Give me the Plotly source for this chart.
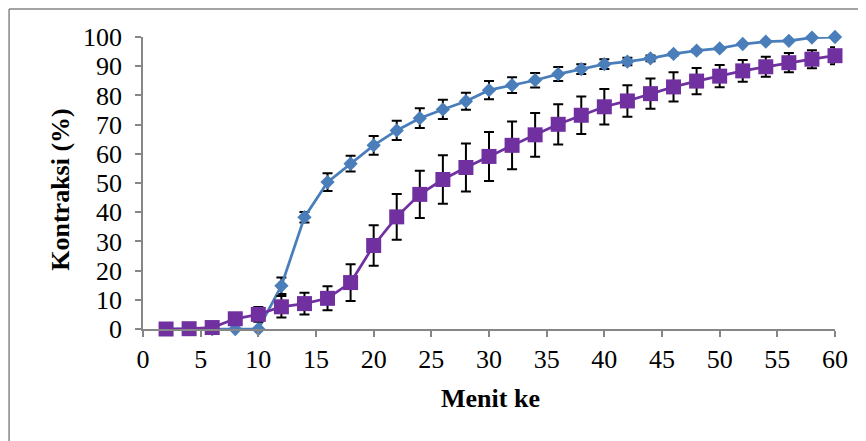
import plotly.graph_objects as go

menit = [2, 4, 6, 8, 10, 12, 14, 16, 18, 20, 22, 24, 26, 28, 30,
         32, 34, 36, 38, 40, 42, 44, 46, 48, 50, 52, 54, 56, 58, 60]

seri_a = [0, 0, 0, 0, 0, 14.8, 38.3, 50.3, 56.6, 62.9, 68.0, 72.2, 75.2, 78.0, 81.8,
          83.5, 85.2, 87.3, 89.0, 90.7, 91.6, 92.7, 94.2, 95.3, 96.1, 97.6, 98.4, 98.7, 99.8, 100.0]
err_a = [0, 0, 0, 0, 0, 2.8, 1.8, 3.0, 2.7, 3.2, 3.3, 3.4, 3.3, 2.9, 3.1,
         2.7, 2.5, 2.4, 1.7, 1.7, 1.3, 1.0, 0.5, 0.5, 0.4, 0.3, 0.3, 0.3, 0.2, 0.2]

seri_b = [0, 0.1, 0.5, 3.5, 5.0, 7.6, 8.7, 10.5, 15.9, 28.6, 38.4, 46.1, 51.2, 55.3, 59.1,
          62.9, 66.5, 70.1, 73.2, 76.1, 78.1, 80.6, 82.9, 84.9, 86.6, 88.4, 89.8, 91.2, 92.4, 93.6]
err_b = [0, 0, 0, 0.5, 2.5, 3.7, 3.7, 4.1, 6.3, 6.9, 7.8, 8.1, 8.3, 8.2, 8.4,
         8.2, 7.5, 6.9, 6.4, 6.1, 5.4, 5.2, 5.0, 4.5, 3.8, 3.7, 3.4, 3.3, 3.1, 2.9]

x_ticks = list(range(0, 61, 5))
y_ticks = list(range(0, 101, 10))

BLUE = "#4a7ebb"
PURPLE = "#7030a0"
GRAY = "#868686"
FONT = "Liberation Serif, Times New Roman, serif"
FS = 26

fig = go.Figure()
fig.add_trace(go.Scatter(
    x=menit, y=seri_a, mode="lines+markers",
    line=dict(color=BLUE, width=2.75),
    marker=dict(symbol="diamond", size=11, color=BLUE),
    error_y=dict(type="data", array=err_a, visible=True, color="black", thickness=2, width=5),
    cliponaxis=False, showlegend=False,
))
fig.add_trace(go.Scatter(
    x=menit, y=seri_b, mode="lines+markers",
    line=dict(color=PURPLE, width=2.75),
    marker=dict(symbol="square", size=15, color=PURPLE),
    error_y=dict(type="data", array=err_b, visible=True, color="black", thickness=2, width=5),
    cliponaxis=False, showlegend=False,
))

# page has an 8px body margin; figure coordinates = page coordinates - 8
OFF = 8
W, H = 866, 441
L, T = 142.6 - OFF, 36.7 - OFF
R = W - (835 - OFF)
B = H - (328.7 - OFF)
pw = W - L - R
ph = H - T - B


def px(xp):
    return (xp - OFF - L) / pw


def py(yp):
    return (H - B - (yp - OFF)) / ph


fig.update_layout(
    width=W, height=H,
    margin=dict(l=L, r=R, t=T, b=B, autoexpand=False),
    paper_bgcolor="white", plot_bgcolor="white",
    font=dict(family=FONT, size=FS, color="black"),
    xaxis=dict(range=[0, 60], tickvals=x_ticks, showgrid=False, zeroline=False,
               showline=True, linecolor=GRAY, linewidth=1.5,
               ticks="outside", ticklen=6, tickcolor=GRAY, tickwidth=1.5,
               ticklabelstandoff=0,
               tickfont=dict(family=FONT, size=FS)),
    yaxis=dict(range=[0, 100], tickvals=y_ticks, showgrid=False, zeroline=False,
               showline=True, linecolor=GRAY, linewidth=1.5,
               ticks="outside", ticklen=6, tickcolor=GRAY, tickwidth=1.5,
               ticklabelstandoff=8,
               tickfont=dict(family=FONT, size=FS)),
    annotations=[
        dict(text="<b>Menit ke</b>", x=px(490), y=py(398),
             xref="paper", yref="paper", showarrow=False,
             font=dict(family=FONT, size=FS), xanchor="center", yanchor="middle"),
        dict(text="<b>Kontraksi (%)</b>", x=px(60), y=py(189),
             xref="paper", yref="paper", showarrow=False, textangle=-90,
             font=dict(family=FONT, size=FS), xanchor="center", yanchor="middle"),
    ],
    shapes=[
        dict(type="line", xref="paper", yref="paper",
             x0=px(8.6), x1=px(8.6), y0=py(8.6), y1=py(460),
             line=dict(color=GRAY, width=1.5)),
        dict(type="line", xref="paper", yref="paper",
             x0=px(8.6), x1=px(890), y0=py(8.6), y1=py(8.6),
             line=dict(color=GRAY, width=1.5)),
    ],
)

fig.write_html("out.html")
